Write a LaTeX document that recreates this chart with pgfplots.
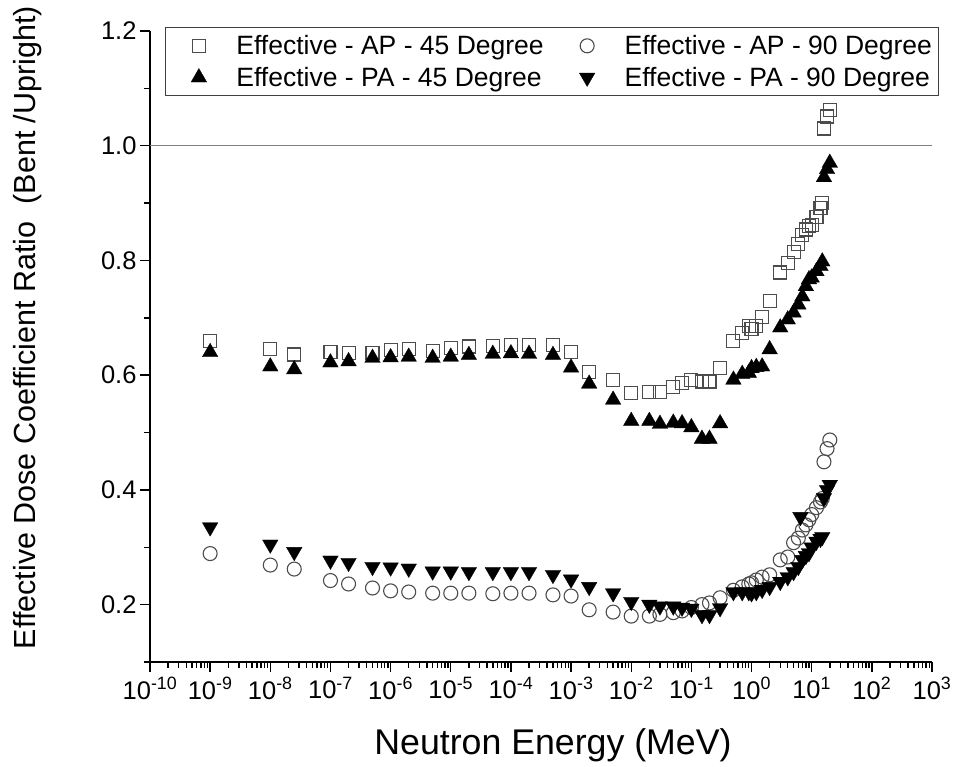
\documentclass[border=0pt]{standalone}
\usepackage{fontspec}
\setmainfont{Liberation Sans}
\usepackage{pgfplots}
\usepackage{pgfplotstable}
\pgfplotsset{compat=1.18}

\pgfplotstableread{
E ap45 pa45 ap90 pa90
1e-9 0.660 0.640 0.289 0.335
1e-8 0.645 0.615 0.269 0.305
2.5e-8 0.636 0.610 0.262 0.292
1e-7 0.640 0.622 0.242 0.277
2e-7 0.638 0.624 0.236 0.273
5e-7 0.638 0.630 0.229 0.266
1e-6 0.644 0.631 0.224 0.265
2e-6 0.646 0.632 0.222 0.263
5e-6 0.642 0.630 0.220 0.258
1e-5 0.648 0.632 0.220 0.258
2e-5 0.650 0.635 0.220 0.257
5e-5 0.651 0.637 0.219 0.257
1e-4 0.653 0.638 0.220 0.257
2e-4 0.652 0.637 0.220 0.257
5e-4 0.652 0.635 0.217 0.252
1e-3 0.641 0.613 0.215 0.244
2e-3 0.606 0.585 0.191 0.231
5e-3 0.592 0.557 0.187 0.220
1e-2 0.569 0.520 0.180 0.205
2e-2 0.571 0.520 0.180 0.200
3e-2 0.571 0.515 0.183 0.197
5e-2 0.580 0.517 0.186 0.197
7e-2 0.587 0.516 0.189 0.195
0.1 0.592 0.509 0.195 0.193
0.15 0.589 0.489 0.200 0.182
0.2 0.589 0.489 0.203 0.182
0.3 0.612 0.516 0.212 0.194
0.5 0.659 0.592 0.225 0.222
0.7 0.674 0.602 0.231 0.222
0.9 0.685 0.604 0.236 0.222
1 0.680 0.612 0.238 0.220
1.2 0.685 0.614 0.243 0.222
1.5 0.702 0.615 0.248 0.226
2 0.730 0.645 0.252 0.231
3 0.779 0.683 0.278 0.240
4 0.796 0.697 0.283 0.248
5 0.815 0.709 0.308 0.257
6 0.828 0.723 0.316 0.266
7 0.845 0.737 0.330 0.278
8 0.854 0.755 0.339 0.285
9 0.860 0.767 0.348 0.290
10 0.862 0.770 0.357 0.300
12 0.875 0.781 0.369 0.310
14 0.892 0.790 0.379 0.315
15 0.900 0.798 0.385 0.318
16 1.030 0.945 0.449 0.386
18 1.051 0.959 0.472 0.400
20 1.063 0.970 0.487 0.409
}\datatable

\pgfplotstableread{
E pa90
6.5 0.353
}\extrapa

\def\minorlist{1e-10}
\foreach \e in {-10,...,2}{\foreach \m in {2,...,9}{\xdef\minorlist{\minorlist,\m e\e}}}

\begin{document}
\begin{tikzpicture}
\path[use as bounding box] (-150pt,-105pt) rectangle (808pt,662pt);
\begin{axis}[
  at={(0pt,0pt)}, anchor=south west,
  scale only axis, width=782pt, height=631pt,
  xmode=log, xmin=1e-10, xmax=1e3,
  ymin=0.1, ymax=1.2,
  axis x line*=bottom, axis y line*=left,
  axis line style={line width=1.4pt},
  every tick/.style={black, line width=1.4pt},
  tick align=outside,
  major tick length=10pt, minor tick length=6pt,
  xtick={1e-10,1e-9,1e-8,1e-7,1e-6,1e-5,1e-4,1e-3,1e-2,1e-1,1,1e1,1e2,1e3},
  xticklabels={10\textsuperscript{-10},10\textsuperscript{-9},10\textsuperscript{-8},10\textsuperscript{-7},10\textsuperscript{-6},10\textsuperscript{-5},10\textsuperscript{-4},10\textsuperscript{-3},10\textsuperscript{-2},10\textsuperscript{-1},10\textsuperscript{0},10\textsuperscript{1},10\textsuperscript{2},10\textsuperscript{3}},
  minor xtick/.expanded={\minorlist},
  ytick={0.2,0.4,0.6,0.8,1.0,1.2},
  minor ytick={0.1,0.3,0.5,0.7,0.9,1.1},
  yticklabel style={/pgf/number format/.cd, fixed, fixed zerofill, precision=1, assume math mode=true},
  ticklabel style={font=\fontsize{25.5}{30}\selectfont},
  xticklabel style={yshift=-2pt},
  xlabel={Neutron Energy (MeV)},
  ylabel={Effective Dose Coefficient Ratio\ \ (Bent /Upright)},
  xlabel style={font=\fontsize{35.7}{40}\selectfont, yshift=-22pt, xshift=12pt},
  ylabel style={font=\fontsize{30.5}{35}\selectfont, at={(-122pt,0.53)}, anchor=center},
  clip=false,
  legend columns=2,
  legend cell align=left,
  legend style={at={(0.0192,1.0063)}, anchor=north west, draw=black!75, line width=0.9pt,
    font=\fontsize{26.5}{33}\selectfont, inner xsep=4pt, inner ysep=6pt,
    row sep=7pt,
    /tikz/every even column/.append style={column sep=12pt}},
  legend image code/.code={\path (0pt,0pt) (64pt,0pt); \draw[#1] plot[only marks] coordinates {(29pt,0pt)};},
]
\addplot[gray, line width=0.8pt, forget plot] coordinates {(1e-10,1) (1e3,1)};
\addplot[only marks, mark=square, mark size=6.5pt, mark options={draw=black!70, line width=1.1pt}] table[x=E, y=ap45] {\datatable};
\addlegendentry{Effective - AP - 45 Degree}
\addplot[only marks, mark=o, mark size=7pt, mark options={draw=black!70, line width=1.1pt}] table[x=E, y=ap90] {\datatable};
\addlegendentry{Effective - AP - 90 Degree}
\addplot[only marks, mark=triangle*, mark size=9pt, mark options={fill=black, draw=black, line width=0.3pt}] table[x=E, y=pa45] {\datatable};
\addlegendentry{Effective - PA - 45 Degree}
\addplot[only marks, mark=triangle*, mark size=9pt, mark options={fill=black, draw=black, line width=0.3pt, rotate=180}] table[x=E, y=pa90] {\datatable};
\addlegendentry{Effective - PA - 90 Degree}
\addplot[only marks, forget plot, mark=triangle*, mark size=9pt, mark options={fill=black, draw=black, line width=0.3pt, rotate=180}] table[x=E, y=pa90] {\extrapa};
\end{axis}
\end{tikzpicture}
\end{document}
